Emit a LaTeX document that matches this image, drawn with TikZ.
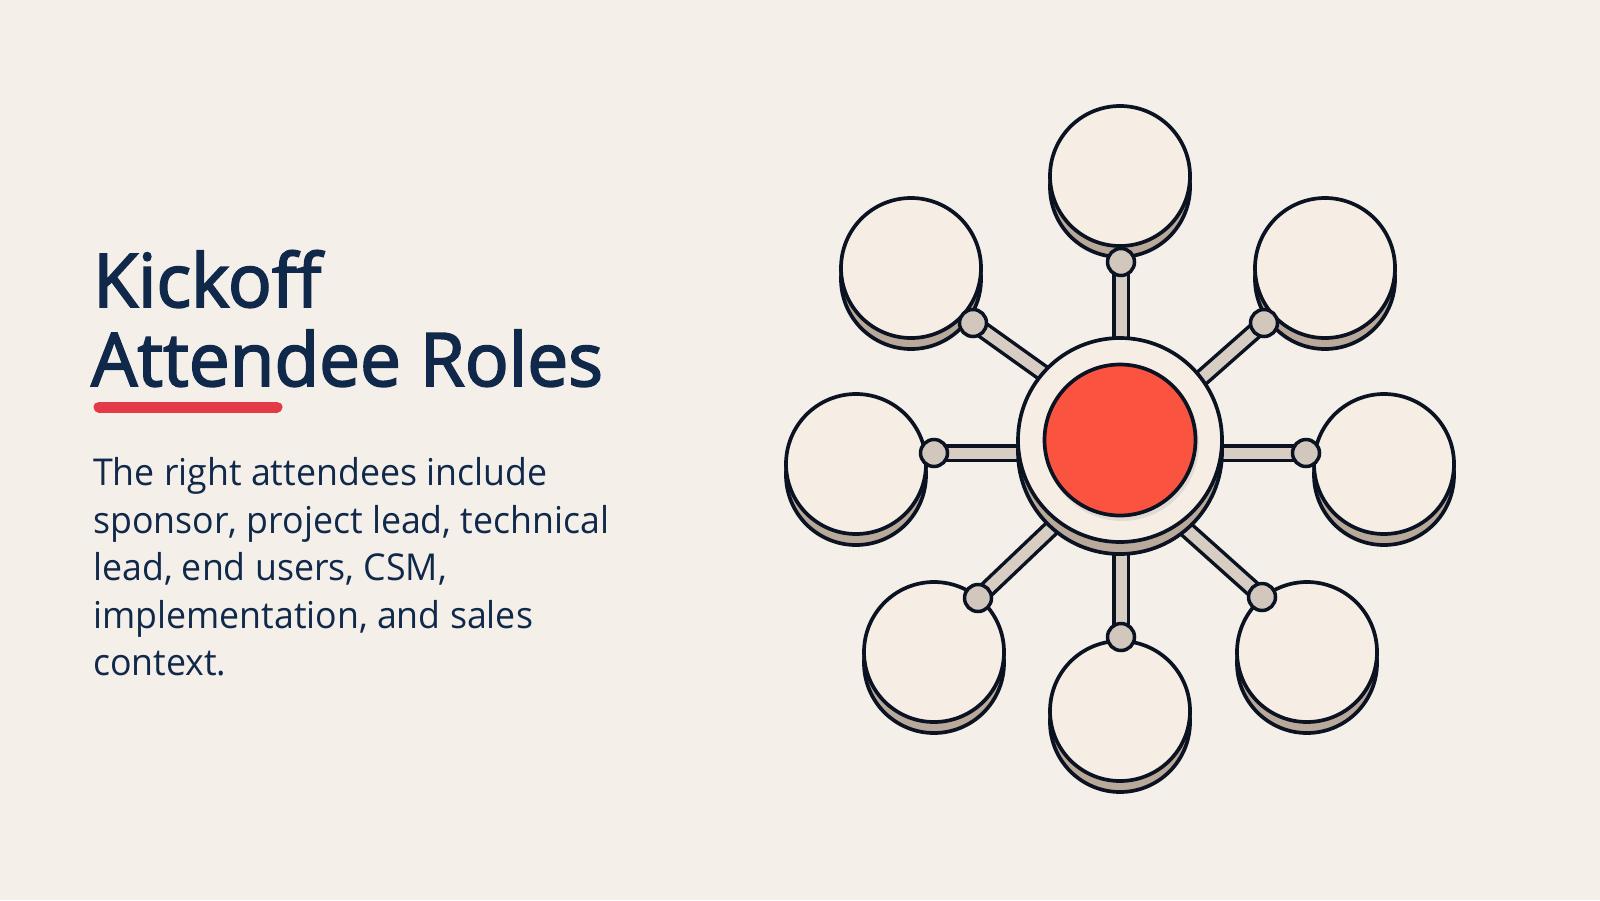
\documentclass[tikz,border=0pt]{standalone}
\usepackage{fontspec}
\setmainfont{Open Sans}[FakeStretch=0.965]
\newfontfamily\titlefont{Open Sans}[FakeBold=2.5, FakeStretch=0.985]
\usetikzlibrary{shadings}
\definecolor{bgc}{HTML}{F4F0E9}
\definecolor{navy}{HTML}{10284A}
\definecolor{accent}{HTML}{E23A47}
\definecolor{ink}{HTML}{0B1322}
\definecolor{face}{HTML}{F6EEE5}
\definecolor{side}{HTML}{D3C5B8}
\definecolor{sidedark}{HTML}{B9A99B}
\definecolor{bar}{HTML}{D8CDC2}
\definecolor{dotc}{HTML}{D2C7BD}
\definecolor{hub}{HTML}{FA5441}
\pgfdeclarelayer{bg0}
\pgfdeclarelayer{background}
\pgfsetlayers{bg0,background,main}
\tikzset{
  satside/.style={circle, inner sep=0pt, minimum size=140pt, draw=ink, line width=3.7pt,
    shading=axis, left color=sidedark, middle color=side, right color=sidedark, shading angle=0},
  satface/.style={circle, inner sep=0pt, minimum size=140pt, draw=ink, line width=3.7pt, fill=face},
  dotnode/.style={circle, inner sep=0pt, minimum size=27pt, draw=ink, line width=3.5pt, fill=dotc},
  conn/.style={draw=ink, line width=3.5pt, double=bar, double distance=11pt},
  titletext/.style={anchor=base west, inner sep=0pt, text=navy, font=\titlefont\fontsize{74}{80}\selectfont},
  bodytext/.style={anchor=base west, inner sep=0pt, text=navy, font=\fontsize{37}{48}\selectfont},
}
\begin{document}
\begin{tikzpicture}[x=1pt,y=-1pt]
\begin{pgfonlayer}{bg0}
\fill[bgc] (0,0) rectangle (1600,900);
\end{pgfonlayer}
\useasboundingbox (0,0) rectangle (1600,900);

% title and body
\node[titletext] (t1) at (93,307) {Kickoff};
\node[titletext] (t2) at (91,386) {Attendee Roles};
\coordinate (ulA) at (99,407);
\coordinate (ulB) at (277,407);
\draw[accent, line width=11pt, line cap=round] (ulA) -- (ulB);
\node[bodytext] (b1) at (93,485.5) {The right attendees include};
\node[bodytext] (b2) at (93,533) {sponsor, project lead, technical};
\node[bodytext] (b3) at (93,580.5) {lead, end users, CSM,};
\node[bodytext] (b4) at (93,628) {implementation, and sales};
\node[bodytext] (b5) at (93,675.5) {context.};

% hub
\node[circle, inner sep=0pt, minimum size=204pt, draw=ink, line width=3.7pt,
  shading=axis, left color=sidedark, middle color=side, right color=sidedark, shading angle=0] (hubside) at (1120,452) {};
\node[circle, inner sep=0pt, minimum size=204pt, draw=ink, line width=3.7pt, fill=face] (hubring) at (1120,440) {};
\node[circle, inner sep=0pt, minimum size=154pt, fill=black!35, opacity=0.25] (hubshadow) at (1122,444) {};
\node[circle, inner sep=0pt, minimum size=151pt, draw=ink, line width=3.7pt, fill=hub] (hub) at (1120,440) {};

% connector ends inside the hub
\coordinate (eT) at (1121,440);
\coordinate (eB) at (1121,440);
\coordinate (eL) at (1120,453);
\coordinate (eR) at (1120,453);
\coordinate (eTL) at (1120,428);
\coordinate (eTR) at (1120,450);
\coordinate (eBL) at (1120,463);
\coordinate (eBR) at (1120,470);

% satellites
\foreach \n/\x/\y/\dx/\dy in {T/1120/176/1121/262, TL/911/268/973/323, TR/1325/268/1264/323,
  L/856/464/934/453, R/1384/464/1306/453, BL/934/652/978/598, B/1120/711/1121/637, BR/1307/652/1262/597}{
  \node[satside] (s\n side) at (\x,\y+11) {};
  \node[satface] (s\n) at (\x,\y) {};
  \node[dotnode] (d\n) at (\dx,\dy) {};
  \begin{pgfonlayer}{background}
    \draw[conn] (e\n) -- (d\n.center);
  \end{pgfonlayer}
}
\end{tikzpicture}
\end{document}
